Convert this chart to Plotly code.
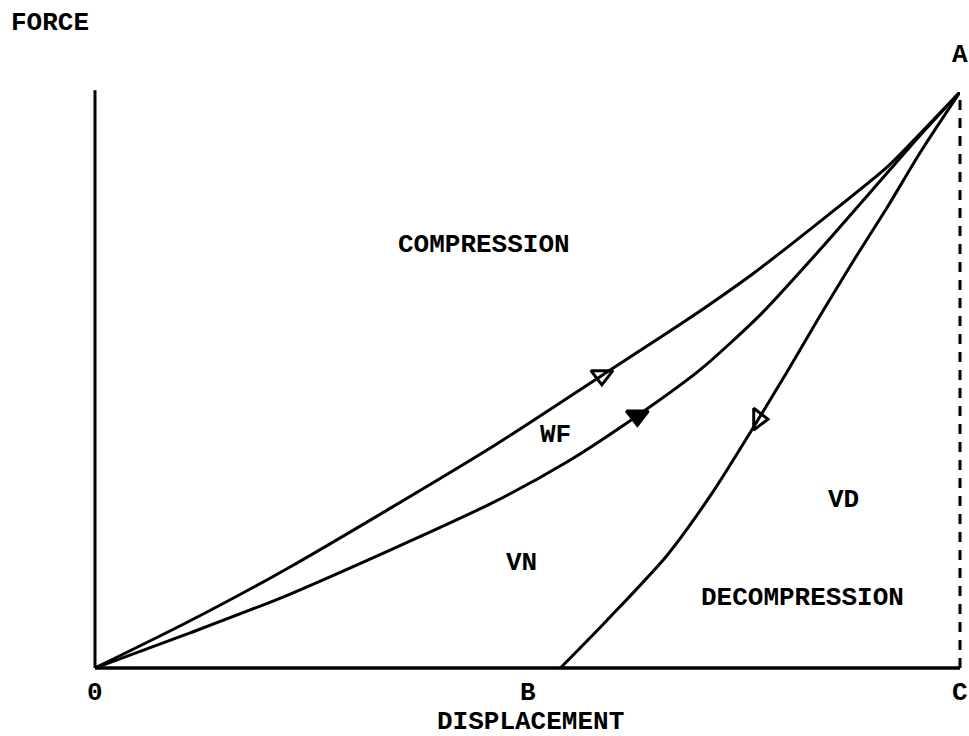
import plotly.graph_objects as go

# Force-displacement loops (displacement O..C normalised to 0..1, force at A = 1)
compression_x = [0.0, 0.110, 0.225, 0.457, 0.586, 0.684, 0.761, 0.838, 0.916, 0.954, 1.0]
compression_y = [0.0, 0.082, 0.175, 0.382, 0.508, 0.604, 0.685, 0.775, 0.870, 0.928, 1.0]

frictionless_x = [0.0, 0.110, 0.225, 0.457, 0.546, 0.627, 0.699, 0.769, 0.838, 0.919, 0.954, 1.0]
frictionless_y = [0.0, 0.061, 0.128, 0.285, 0.358, 0.438, 0.517, 0.613, 0.726, 0.865, 0.925, 1.0]

decompression_x = [0.538, 0.592, 0.661, 0.714, 0.769, 0.800, 0.838, 0.876, 0.916, 0.954, 1.0]
decompression_y = [0.0, 0.083, 0.195, 0.305, 0.437, 0.514, 0.611, 0.705, 0.800, 0.895, 1.0]

# Direction markers on each curve
arrow_x = [0.586, 0.627, 0.767]
arrow_y = [0.508, 0.438, 0.432]
arrow_symbols = ["triangle-down-open", "triangle-down", "triangle-right-open"]

tick_pos = [0.0, 0.5, 1.0]
tick_text = ["0", "B", "C"]

# Region labels: (text, x, y)
region_labels = [
    ("COMPRESSION", 0.450, 0.734),
    ("WF", 0.532, 0.405),
    ("VN", 0.493, 0.182),
    ("VD", 0.865, 0.292),
    ("DECOMPRESSION", 0.818, 0.122),
]

FONT = dict(family="Liberation Mono, DejaVu Sans Mono, monospace", size=26, color="black")

fig = go.Figure()
line = dict(color="black", width=3, shape="spline", smoothing=0.7)
for xs, ys in [(compression_x, compression_y),
               (frictionless_x, frictionless_y),
               (decompression_x, decompression_y)]:
    fig.add_trace(go.Scatter(x=xs, y=ys, mode="lines", line=line,
                             hoverinfo="skip", cliponaxis=False))

fig.add_trace(go.Scatter(
    x=arrow_x, y=arrow_y, mode="markers", cliponaxis=False,
    marker=dict(symbol=arrow_symbols, size=19, color="black",
                line=dict(color="black", width=3)),
    hoverinfo="skip"))

# Axes drawn as shapes (paper coordinates coincide with the data range)
fig.add_shape(type="line", xref="paper", yref="paper", x0=0, x1=0, y0=0, y1=1.003,
              line=dict(color="black", width=3))
fig.add_shape(type="line", xref="paper", yref="paper", x0=0, x1=1, y0=0, y1=0,
              line=dict(color="black", width=3.5))
fig.add_shape(type="line", xref="paper", yref="paper", x0=1, x1=1, y0=0, y1=1,
              line=dict(color="black", width=3, dash="10px,8px"))

ann = []
for t, xv in zip(tick_text, tick_pos):
    ann.append(dict(x=xv, y=-0.043, xref="paper", yref="paper", text="<b>%s</b>" % t,
                    showarrow=False, font=FONT, xanchor="center", yanchor="middle"))
ann.append(dict(x=0.503, y=-0.094, xref="paper", yref="paper", text="<b>DISPLACEMENT</b>",
                showarrow=False, font=FONT, xanchor="center", yanchor="middle"))
ann.append(dict(x=1.0, y=1.064, xref="paper", yref="paper", text="<b>A</b>",
                showarrow=False, font=FONT, xanchor="center", yanchor="middle"))
ann.append(dict(x=-0.052, y=1.120, xref="paper", yref="paper", text="<b>FORCE</b>",
                showarrow=False, font=FONT, xanchor="center", yanchor="middle"))
for t, xv, yv in region_labels:
    ann.append(dict(x=xv, y=yv, xref="paper", yref="paper", text="<b>%s</b>" % t,
                    showarrow=False, font=FONT, xanchor="center", yanchor="middle"))

fig.update_layout(
    width=969, height=736,
    margin=dict(l=95, r=9, t=92, b=68),
    paper_bgcolor="white", plot_bgcolor="white",
    showlegend=False,
    xaxis=dict(range=[0, 1], visible=False),
    yaxis=dict(range=[0, 1], visible=False),
    annotations=ann,
)

fig.write_html("out.html")
